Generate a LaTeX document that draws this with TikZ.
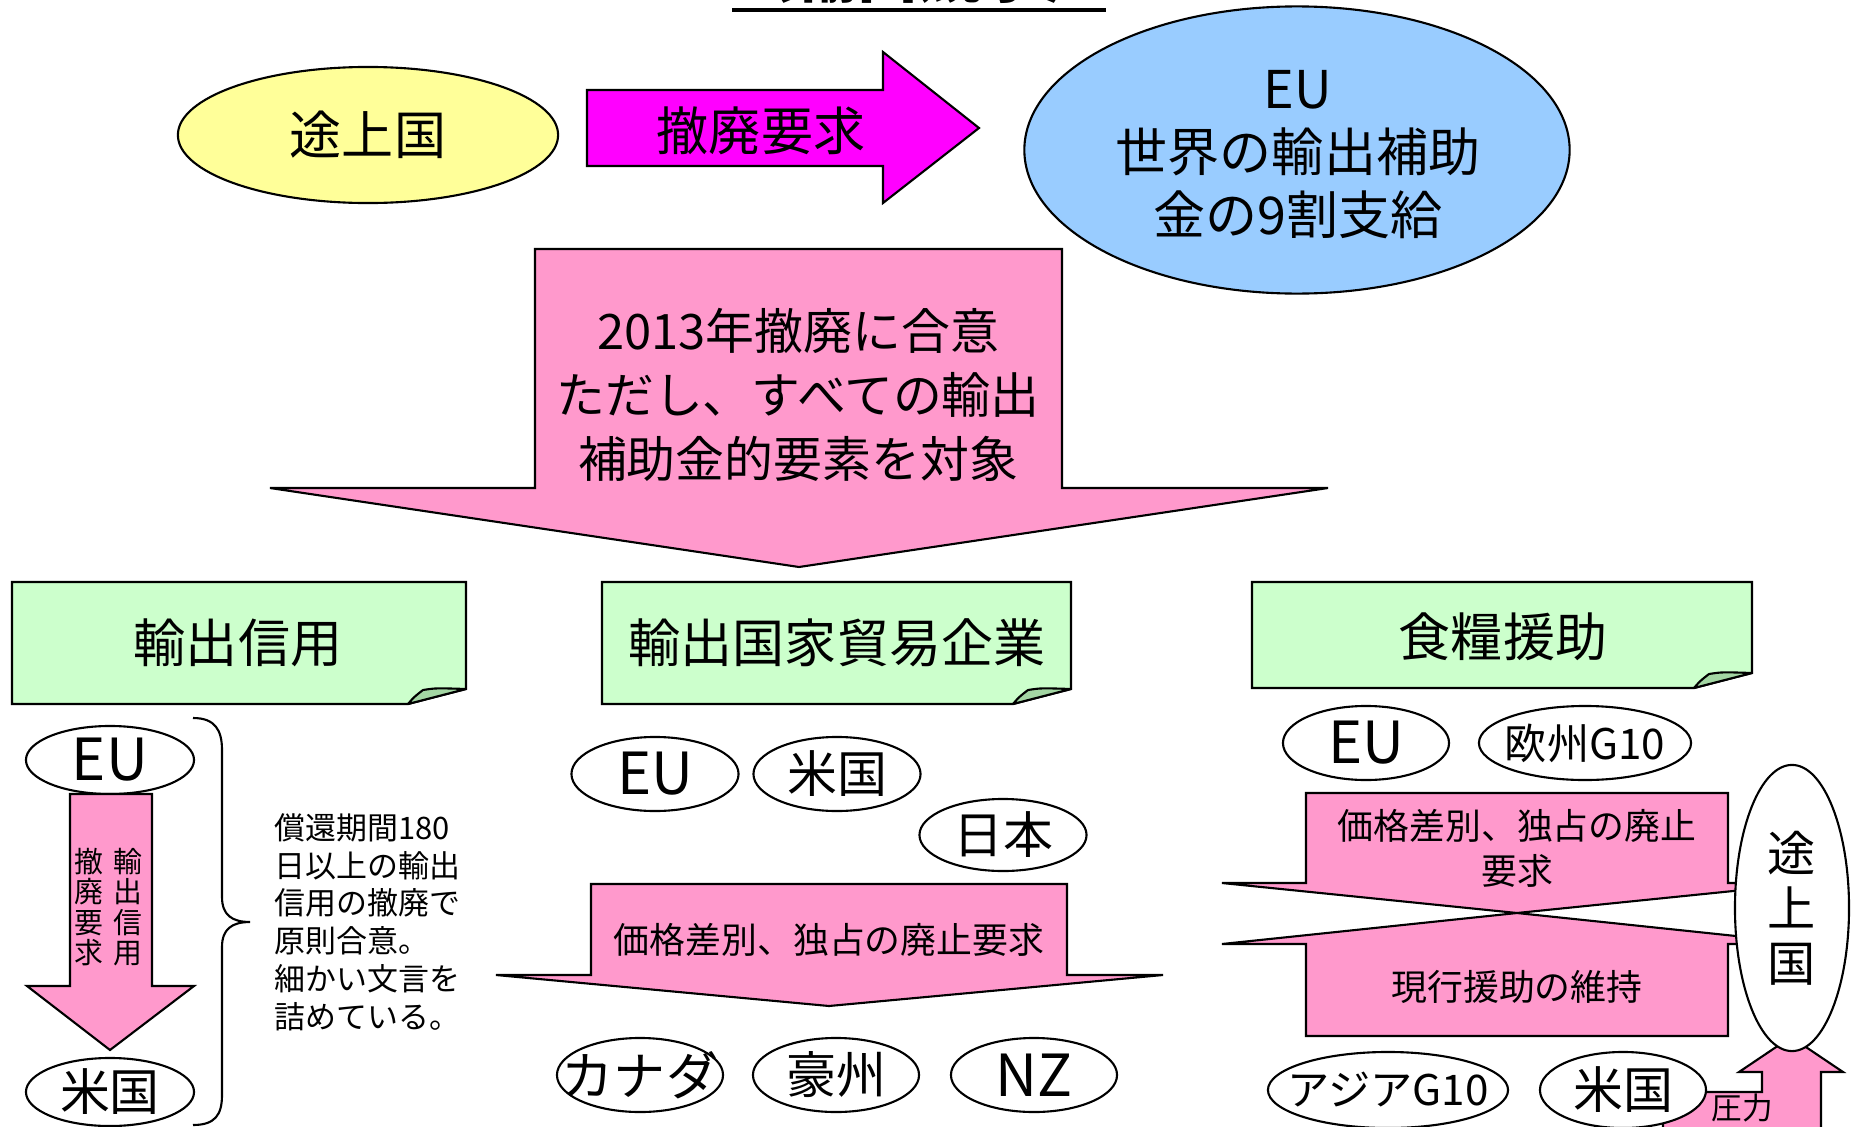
\documentclass[tikz,border=0pt]{standalone}
\usepackage{fontspec}
\setmainfont{Noto Sans CJK JP}
\usepackage{tikz}
\usetikzlibrary{shapes.geometric}
\definecolor{pink300}{HTML}{FF99CC}
\definecolor{magenta500}{HTML}{FF00FF}
\definecolor{yellow100}{HTML}{FFFF99}
\definecolor{blue200}{HTML}{99CCFF}
\definecolor{green100}{HTML}{CCFFCC}
\definecolor{green300}{HTML}{A3D6A3}
\newcommand{\ftitulo}{\fontsize{17.7pt}{20pt}\selectfont\bfseries}
\newcommand{\fgrande}{\fontsize{14.8pt}{17.9pt}\selectfont}
\newcommand{\fseta}{\fontsize{13.9pt}{18.2pt}\selectfont}
\newcommand{\fpais}{\fontsize{14.2pt}{16pt}\selectfont}
\newcommand{\feu}{\fontsize{16.5pt}{18pt}\selectfont}
\newcommand{\fmedio}{\fontsize{12pt}{14pt}\selectfont}
\newcommand{\fpequeno}{\fontsize{10.2pt}{12.8pt}\selectfont}
\newcommand{\fnota}{\fontsize{8.8pt}{10.75pt}\selectfont}
\newcommand{\fvert}{\fontsize{8.2pt}{8.6pt}\selectfont}
\tikzstyle{pais}=[ellipse, draw=black, fill=white, inner sep=0pt, line width=0.6pt]
\tikzstyle{flecha}=[draw=black, fill=pink300, line width=0.6pt, line join=miter]
\tikzstyle{nota}=[draw=black, fill=green100, line width=0.6pt]
\tikzstyle{dobra}=[draw=black, fill=green300, line width=0.6pt, line join=round]
\tikzstyle{rotulo}=[inner sep=0pt, align=center]
% folded note: x1 y1 x2 y2
\newcommand{\nota}[4]{%
  \path[nota] (#1,#2) -- (#3,#2) -- (#3,#4-15) -- (#3-58,#4) -- (#1,#4) -- cycle;
  \path[dobra] (#3-58,#4) .. controls (#3-52,#4-7) .. (#3-43,#4-14) .. controls (#3-30,#4-16) .. (#3,#4-15) -- cycle;}

\begin{document}
\begin{tikzpicture}[x=0.01cm, y=-0.01cm]
			\useasboundingbox (0,0) rectangle (1851,1127);
			\clip (0,0) rectangle (1851,1127);
			\node[rotulo, font=\ftitulo, anchor=base] (titulo) at (919,-2) {〈輸出競争〉};
			\draw[line width=1.2pt] (732,10) -- (1106,10);

			\node[pais, fill=yellow100, minimum width=3.80cm, minimum height=1.36cm] (tojo) at (368,135) {};
			\node[rotulo, font=\fgrande] (tojot) at (tojo) {途上国};
			\path[draw=black, fill=magenta500, line width=0.6pt, line join=miter] (587,90) -- (883,90) -- (883,52) -- (979,128) -- (883,203) -- (883,166) -- (587,166) -- cycle;
			\node[rotulo, font=\fgrande] (teppai) at (761,131) {撤廃要求};
			\node[pais, fill=blue200, minimum width=5.45cm, minimum height=2.87cm] (eu) at (1297,150) {};
			\node[rotulo, font=\fgrande] (eut) at (1298,155) {EU\\世界の輸出補助\\金の9割支給};

			\path[flecha] (535,249) -- (1062,249) -- (1062,488) -- (1328,488) -- (799,567) -- (270,488) -- (535,488) -- cycle;
			\node[rotulo, font=\fseta] (goui) at (798,395) {2013年撤廃に合意\\ただし、すべての輸出\\補助金的要素を対象};

			\nota{12}{582}{466}{704}
			\node[rotulo, font=\fgrande] (shinyo) at (238,643) {輸出信用};
			\nota{602}{582}{1071}{704}
			\node[rotulo, font=\fgrande] (boeki) at (837,643) {輸出国家貿易企業};
			\nota{1252}{582}{1752}{688}
			\node[rotulo, font=\fgrande] (enjo) at (1503,637) {食糧援助};

			\node[pais, minimum width=1.68cm, minimum height=0.68cm] (eu1) at (110,760) {};
			\node[rotulo, font=\feu] (eu1t) at (eu1) {EU};
			\path[flecha] (70,794) -- (152,794) -- (152,986) -- (194,986) -- (110,1050) -- (27,986) -- (70,986) -- cycle;
			\node[rotulo, font=\fvert] (v1) at (128,907) {輸\\出\\信\\用};
			\node[rotulo, font=\fvert] (v2) at (89,907) {撤\\廃\\要\\求};
			\node[pais, minimum width=1.68cm, minimum height=0.68cm] (bei1) at (110,1092) {};
			\node[rotulo, font=\fpais] (bei1t) at (bei1) {米国};
			\draw[line width=0.6pt] (193,718) .. controls (215,718) and (222,730) .. (222,750) -- (222,897) .. controls (222,915) and (232,922) .. (250,922) .. controls (232,922) and (222,929) .. (222,947) -- (222,1095) .. controls (222,1115) and (215,1125) .. (193,1125);
			\node[inner sep=0pt, align=left, anchor=west, font=\fnota] (kijun) at (274,922) {償還期間180\\日以上の輸出\\信用の撤廃で\\原則合意。\\細かい文言を\\詰めている。};

			\node[pais, minimum width=1.67cm, minimum height=0.74cm] (eu2) at (655,774) {};
			\node[rotulo, font=\feu] (eu2t) at (eu2) {EU};
			\node[pais, minimum width=1.67cm, minimum height=0.74cm] (bei2) at (837,774) {};
			\node[rotulo, font=\fpais] (bei2t) at (bei2) {米国};
			\node[pais, minimum width=1.67cm, minimum height=0.72cm] (nihon) at (1003,835) {};
			\node[rotulo, font=\fpais] (nihont) at (nihon) {日本};
			\path[flecha] (591,884) -- (1067,884) -- (1067,975) -- (1163,975) -- (829,1006) -- (496,975) -- (591,975) -- cycle;
			\node[rotulo, font=\fpequeno] (sabetsu1) at (829,940) {価格差別、独占の廃止要求};
			\node[pais, minimum width=1.66cm, minimum height=0.74cm] (canada) at (640,1075) {};
			\node[rotulo, font=\fgrande] (canadat) at (canada) {カナダ};
			\node[pais, minimum width=1.66cm, minimum height=0.74cm] (gou) at (836,1075) {};
			\node[rotulo, font=\fpais] (gout) at (gou) {豪州};
			\node[pais, minimum width=1.66cm, minimum height=0.74cm] (nz) at (1034,1075) {};
			\node[rotulo, font=\feu] (nzt) at (nz) {NZ};

			\path[flecha] (1663,1140) -- (1663,1092) -- (1762,1092) -- (1762,1072) -- (1739,1072) -- (1791,1037) -- (1843,1072) -- (1821,1072) -- (1821,1140) -- cycle;
			\node[rotulo, font=\fvert] (atsu) at (1742,1108) {\fontsize{8.7pt}{9pt}\selectfont 圧力};
			\node[pais, minimum width=1.66cm, minimum height=0.74cm] (eu3) at (1366,743) {};
			\node[rotulo, font=\feu] (eu3t) at (eu3) {EU};
			\node[pais, minimum width=2.12cm, minimum height=0.74cm] (oushu) at (1585,743) {};
			\node[rotulo, font=\fmedio] (oushut) at (oushu) {欧州G10};
			\path[flecha] (1306,793) -- (1728,793) -- (1728,883) -- (1812,883) -- (1517,913) -- (1222,883) -- (1306,883) -- cycle;
			\node[rotulo, font=\fpequeno] (sabetsu2) at (1517,848) {価格差別、独占の廃止\\要求};
			\path[flecha] (1306,1036) -- (1728,1036) -- (1728,944) -- (1812,944) -- (1517,913) -- (1222,944) -- (1306,944) -- cycle;
			\node[rotulo, font=\fpequeno] (iji) at (1517,987) {現行援助の維持};
			\node[pais, minimum width=1.14cm, minimum height=2.86cm] (tojo2) at (1792,908) {};
			\node[rotulo, font=\fontsize{13.7pt}{15.6pt}\selectfont] (tojo2t) at (tojo2) {途\\上\\国};
			\node[pais, minimum width=2.40cm, minimum height=0.76cm] (asia) at (1388,1090) {};
			\node[rotulo, font=\fmedio] (asiat) at (asia) {アジアG10};
			\node[pais, minimum width=1.66cm, minimum height=0.76cm] (bei3) at (1623,1090) {};
			\node[rotulo, font=\fpais] (bei3t) at (bei3) {米国};
		\end{tikzpicture}
\end{document}
